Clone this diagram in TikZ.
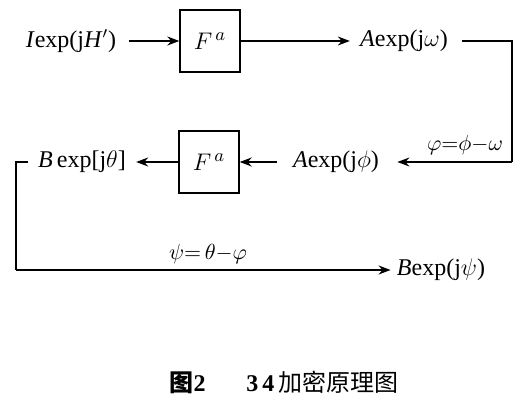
\documentclass[tikz,border=0pt]{standalone}
\usepackage{fontspec}
\setmainfont{Liberation Serif}
\newfontfamily\cjk{Noto Sans CJK SC}
\usetikzlibrary{arrows.meta}

\tikzset{
  fbox/.style={draw, line width=0.7pt, minimum width=30pt, minimum height=31pt, font=\fontsize{13}{15}\selectfont},
  sig/.style={font=\fontsize{12}{14}\selectfont, inner sep=1pt},
  flow/.style={line width=0.7pt, -{Stealth[length=6pt,width=4.5pt]}},
  wire/.style={line width=0.7pt}
}

\begin{document}
\begin{tikzpicture}[x=0.5pt, y=-0.5pt]
\useasboundingbox (0,0) rectangle (522,405);
\node[sig] (in) at (71,41) {\textit{I}exp(j\textit{H}$'$)};
\node[fbox] (fa) at (210,41) {$F^{\,a}$};
\node[sig] (aw) at (404,41) {\textit{A}exp(j$\omega$)};
\coordinate (ne) at (512,41);
\coordinate (se) at (512,162);
\node[sig] (ap) at (336,162) {\textit{A}exp(j$\phi$)};
\node[fbox] (fb) at (209,162) {$F^{\,a}$};
\node[sig] (bt) at (82,162) {\textit{B}\,exp[j$\theta$]};
\coordinate (nw) at (16,162);
\coordinate (sw) at (16,270);
\node[sig] (bp) at (441,270) {\textit{B}exp(j$\psi$)};
\node[font=\fontsize{10.5}{12}\selectfont] (k1) at (465,145) {$\varphi{=}\phi{-}\omega$};
\node[font=\fontsize{10.5}{12}\selectfont] (k2) at (208,254) {$\psi{=}\,\theta{-}\varphi$};

\draw[flow] ([xshift=5pt]in.east) -- (fa.west);
\draw[flow] (fa.east) -- ([xshift=-4pt]aw.west);
\draw[wire] ([xshift=6pt]aw.east) -- (ne) -- (se);
\draw[flow] (se) -- ([xshift=8pt]ap.east);
\draw[flow] ([xshift=-7pt]ap.west) -- (fb.east);
\draw[flow] (fb.west) -- ([xshift=4pt]bt.east);
\draw[wire] ([xshift=-4pt]bt.west) -- (nw) -- (sw);
\draw[flow] (sw) -- ([xshift=-2pt]bp.west);

\node[font=\fontsize{12}{14}\selectfont] (cap) at (284,382) {{\cjk\bfseries 图}\textbf{2}\hspace{1.7em}\textbf{3\,4}\,{\cjk 加密原理图}};
\end{tikzpicture}
\end{document}
